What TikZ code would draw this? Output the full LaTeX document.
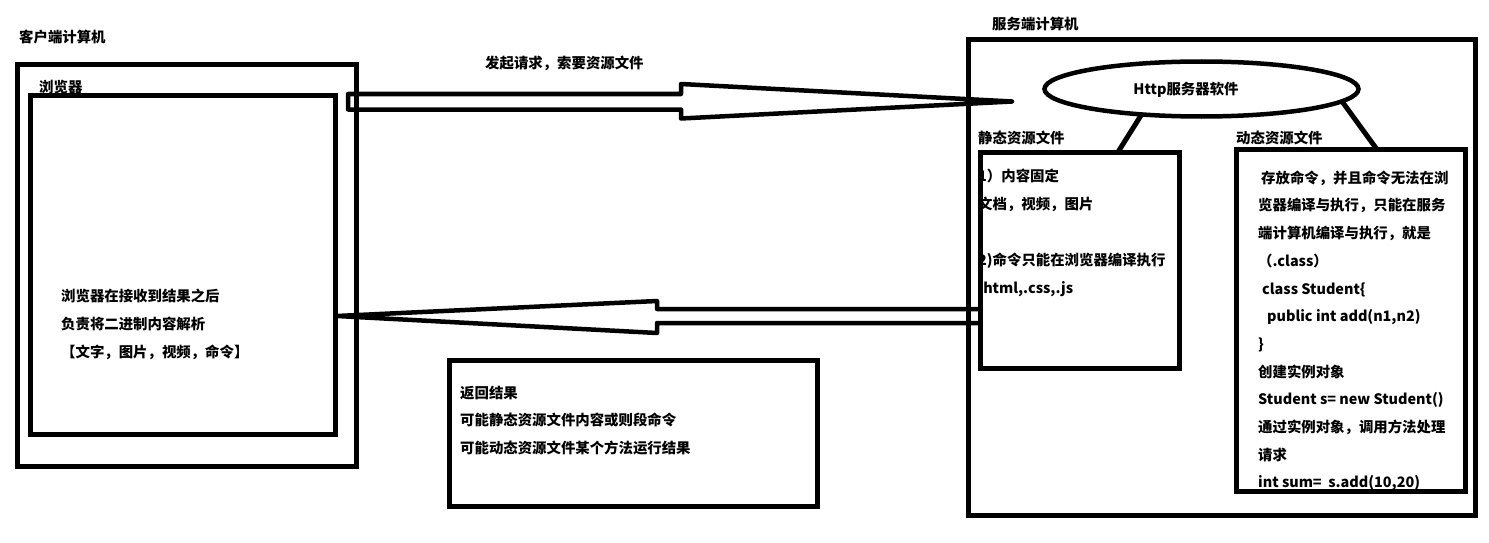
\documentclass[tikz,border=0pt]{standalone}
\usepackage{fontspec}
\setmainfont{Noto Sans CJK SC}
\usetikzlibrary{shapes.geometric}

\begin{document}
\begin{tikzpicture}[x=1pt,y=-1pt,
    box/.style={draw,line width=5pt,inner sep=0,outer sep=0,anchor=north west},
    txt/.style={inner sep=0,font=\bfseries\fontsize{14.4}{28}\selectfont},
    lbl/.style={txt,anchor=west},
    para/.style={txt,anchor=north west,align=left},
    link/.style={line width=5pt},
    blockarrow/.style={line width=4.5pt,line join=round}]
  \useasboundingbox (0,0) rectangle (1489,543);
  % client computer
  \node[lbl] (clientlbl) at (19,37) {客户端计算机};
  \node[box,minimum width=338.5pt,minimum height=401.5pt] (client) at (17.5,64.5) {};
  \node[box,minimum width=304.5pt,minimum height=339pt] (browser) at (30.5,95.5) {};
  \node[lbl] (browserlbl) at (39,87) {浏览器};
  \node[para] (browsertxt) at (61,288.5)
    {浏览器在接收到结果之后\\负责将二进制内容解析\\【文字，图片，视频，命令】};
  % server computer
  \node[lbl] (serverlbl) at (992,24) {服务端计算机};
  \node[box,minimum width=507pt,minimum height=475.5pt] (server) at (968,39.5) {};
  \node[draw,ellipse,line width=4.5pt,inner sep=0,outer sep=0,
    minimum width=314pt,minimum height=55pt] (http) at (1201.5,89) {};
  \node[txt] (httplbl) at (1186,90) {Http服务器软件};
  \node[lbl] (staticlbl) at (978,138) {静态资源文件};
  \node[box,minimum width=199.5pt,minimum height=216pt] (static) at (980,152) {};
  \node[para] (statictxt) at (978,168.5)
    {1）内容固定\\文档，视频，图片\\\mbox{}\\2)命令只能在浏览器编译执行\\.html,.css,.js};
  \node[lbl] (dynamiclbl) at (1236,138) {动态资源文件};
  \node[box,minimum width=229pt,minimum height=342pt] (dynamic) at (1236.5,149.5) {};
  \node[para,font=\bfseries\fontsize{14.4}{27.7}\selectfont] (dynamictxt) at (1258,170.5)
    {\hspace*{3pt}存放命令，并且命令无法在浏\\览器编译与执行，只能在服务\\端计算机编译与执行，就是\\
     （.class）\\\hspace*{4pt}class Student\{\\\hspace*{9pt}public int add(n1,n2)\\\}\\
     创建实例对象\\Student s= new Student()\\通过实例对象，调用方法处理\\请求\\
     int sum=\ \ s.add(10,20)};
  \draw[link] (http.203) -- ([xshift=138pt]static.north west);
  \draw[link] (http.-5) -- ([xshift=140.5pt]dynamic.north west);
  % returned result
  \node[box,minimum width=368pt,minimum height=146pt] (result) at (449.5,360.5) {};
  \node[para,font=\bfseries\fontsize{14.4}{27.5}\selectfont] (resulttxt) at (460,385.5)
    {返回结果\\可能静态资源文件内容或则段命令\\可能动态资源文件某个方法运行结果};
  % request and response
  \node[lbl] (reqlbl) at (485,63) {发起请求，索要资源文件};
  \coordinate (reqL) at (348,101.5);
  \coordinate (reqR) at (1012,101.5);
  \draw[blockarrow] (reqL) ++(0,-7.5) -- ++(333,0) -- ++(0,-10) -- (reqR)
    -- ++(-331,17) -- ++(0,-9) -- ++(-333,0) -- cycle;
  \coordinate (respR) at (978,316);
  \coordinate (respL) at (337,316);
  \draw[blockarrow] (respR) ++(0,-7) -- ++(-321,0) -- ++(0,-8) -- (respL)
    -- ++(320,17) -- ++(0,-10) -- ++(321,0);
\end{tikzpicture}
\end{document}
